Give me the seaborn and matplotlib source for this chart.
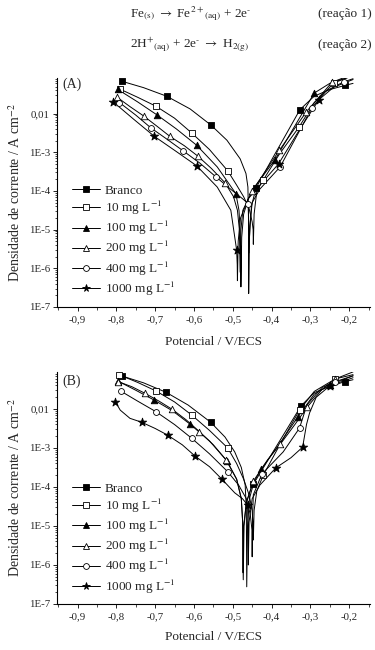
import numpy as np
import matplotlib
matplotlib.use("Agg")
import matplotlib.pyplot as plt
import seaborn as sns
from matplotlib.lines import Line2D
from matplotlib.ticker import LogLocator, NullFormatter, MultipleLocator

# ---------------- data (potential in V/ECS, log10 of current density in A cm-2) -------------
labels = ["Branco", "10 mg L$^{-1}$", "100 mg L$^{-1}$", "200 mg L$^{-1}$",
          "400 mg L$^{-1}$", "1000 mg L$^{-1}$"]
x_ticks = [-0.9, -0.8, -0.7, -0.6, -0.5, -0.4, -0.3, -0.2]
x_ticklabels = ["-0,9", "-0,8", "-0,7", "-0,6", "-0,5", "-0,4", "-0,3", "-0,2"]
y_ticks = [1e-7, 1e-6, 1e-5, 1e-4, 1e-3, 1e-2]
y_ticklabels = ["1E-7", "1E-6", "1E-5", "1E-4", "1E-3", "0,01"]

# Panel A
A_branco_E = [-0.786, -0.73, -0.670, -0.61, -0.556, -0.515, -0.481, -0.466, -0.461, -0.4595, -0.459,
              -0.457, -0.452, -0.440, -0.40, -0.36, -0.327, -0.29, -0.25, -0.210, -0.19]
A_branco_L = [-1.165, -1.33, -1.553, -1.88, -2.30, -2.69, -3.17, -3.55, -3.9, -4.7, -6.65,
              -5.2, -4.4, -3.92, -3.2, -2.49, -1.90, -1.55, -1.38, -1.27, -1.22]
A_branco_M = [0, 2, 4, 13, 16, 19]

A_10_E = [-0.790, -0.745, -0.698, -0.65, -0.606, -0.56, -0.513, -0.49, -0.472, -0.458, -0.450,
          -0.4475, -0.447, -0.445, -0.438, -0.421, -0.38, -0.330, -0.29, -0.238, -0.19]
A_10_L = [-1.372, -1.58, -1.81, -2.12, -2.50, -2.93, -3.48, -3.85, -4.15, -4.45, -4.8,
          -5.0, -5.38, -4.6, -4.0, -3.71, -3.05, -2.36, -1.72, -1.2, -1.02]
A_10_M = [0, 2, 4, 6, 15, 17, 19]

A_100_E = [-0.797, -0.745, -0.696, -0.645, -0.593, -0.54, -0.492, -0.484, -0.481, -0.4795, -0.479,
           -0.477, -0.472, -0.46, -0.44, -0.391, -0.34, -0.290, -0.25, -0.19]
A_100_L = [-1.372, -1.70, -2.03, -2.40, -2.82, -3.38, -4.07, -4.5, -5.0, -5.6, -6.48,
           -5.2, -4.6, -4.2, -3.85, -3.19, -2.32, -1.47, -1.22, -1.02]
A_100_M = [0, 2, 4, 6, 15, 17]

A_200_E = [-0.799, -0.765, -0.730, -0.695, -0.662, -0.625, -0.590, -0.555, -0.520, -0.498, -0.488,
           -0.483, -0.481, -0.479, -0.474, -0.45, -0.38, -0.31, -0.244, -0.19]
A_200_L = [-1.571, -1.82, -2.06, -2.33, -2.59, -2.83, -3.10, -3.42, -3.79, -4.15, -4.5,
           -5.0, -6.1, -5.0, -4.5, -4.0, -2.95, -1.95, -1.19, -0.98]
A_200_M = [0, 2, 4, 6, 8, 15, 16, 17, 18]

A_400_E = [-0.792, -0.75, -0.711, -0.67, -0.627, -0.585, -0.543, -0.50, -0.475, -0.460, -0.459,
           -0.458, -0.456, -0.45, -0.43, -0.378, -0.296, -0.26, -0.214, -0.19]
A_400_L = [-1.716, -2.04, -2.37, -2.66, -2.97, -3.28, -3.64, -4.0, -4.2, -4.33, -4.8,
           -5.6, -4.9, -4.3, -3.95, -3.38, -1.85, -1.42, -1.18, -1.10]
A_400_M = [0, 2, 4, 6, 9, 15, 16, 18]

A_1000_E = [-0.808, -0.755, -0.702, -0.65, -0.593, -0.54, -0.505, -0.490, -0.4885, -0.488, -0.486,
            -0.48, -0.46, -0.43, -0.382, -0.33, -0.278, -0.24, -0.19]
A_1000_L = [-1.70, -2.15, -2.59, -2.95, -3.35, -3.9, -4.5, -5.53, -5.9, -6.32, -5.3,
            -4.7, -4.2, -3.85, -3.30, -2.45, -1.64, -1.32, -1.12]
A_1000_M = [0, 2, 4, 7, 14, 16]

# Panel B
B_branco_E = [-0.786, -0.73, -0.672, -0.615, -0.557, -0.52, -0.495, -0.478, -0.468, -0.465, -0.464,
              -0.462, -0.457, -0.447, -0.40, -0.36, -0.324, -0.29, -0.25, -0.211, -0.19]
B_branco_L = [-1.154, -1.33, -1.572, -1.90, -2.34, -2.72, -3.1, -3.5, -3.95, -4.6, -6.56,
              -5.0, -4.3, -3.93, -3.16, -2.51, -1.92, -1.58, -1.42, -1.30, -1.25]
B_branco_M = [0, 2, 4, 13, 16, 19]

B_10_E = [-0.792, -0.745, -0.698, -0.65, -0.606, -0.56, -0.513, -0.49, -0.472, -0.458, -0.450,
          -0.4475, -0.447, -0.445, -0.438, -0.421, -0.375, -0.328, -0.29, -0.236, -0.19]
B_10_L = [-1.128, -1.32, -1.538, -1.82, -2.154, -2.55, -3.00, -3.4, -3.8, -4.2, -4.6,
          -5.0, -5.36, -4.6, -4.1, -3.69, -2.85, -2.03, -1.55, -1.23, -1.12]
B_10_M = [0, 2, 4, 6, 15, 17, 19]

B_100_E = [-0.797, -0.75, -0.703, -0.655, -0.610, -0.56, -0.515, -0.49, -0.478, -0.4745, -0.473,
           -0.471, -0.465, -0.45, -0.427, -0.38, -0.332, -0.29, -0.249, -0.19]
B_100_L = [-1.28, -1.52, -1.77, -2.05, -2.39, -2.82, -3.33, -3.8, -4.3, -4.9, -6.38,
           -5.0, -4.4, -3.95, -3.55, -2.9, -2.20, -1.62, -1.38, -1.15]
B_100_M = [0, 2, 4, 6, 14, 16, 18]

B_200_E = [-0.795, -0.76, -0.726, -0.69, -0.656, -0.62, -0.586, -0.55, -0.517, -0.49, -0.478,
           -0.4745, -0.4735, -0.472, -0.465, -0.447, -0.41, -0.378, -0.34, -0.308, -0.27, -0.236, -0.19]
B_200_L = [-1.30, -1.43, -1.60, -1.80, -2.01, -2.28, -2.58, -2.92, -3.31, -3.8, -4.3,
           -4.9, -6.2, -5.0, -4.4, -3.85, -3.3, -2.91, -2.4, -1.95, -1.5, -1.23, -1.05]
B_200_M = [0, 2, 4, 6, 8, 15, 17, 19, 21]

B_400_E = [-0.789, -0.745, -0.698, -0.65, -0.606, -0.56, -0.513, -0.485, -0.465, -0.455, -0.4505,
           -0.450, -0.449, -0.447, -0.425, -0.37, -0.328, -0.309, -0.27, -0.236, -0.19]
B_400_L = [-1.54, -1.80, -2.07, -2.40, -2.75, -3.15, -3.61, -3.95, -4.3, -4.7, -5.1,
           -5.79, -4.8, -4.2, -3.67, -3.1, -2.49, -1.9, -1.45, -1.3, -1.15]
B_400_M = [0, 2, 4, 6, 14, 16, 19]

B_1000_E = [-0.803, -0.790, -0.765, -0.735, -0.70, -0.668, -0.63, -0.597, -0.56, -0.528, -0.495,
            -0.475, -0.462, -0.4605, -0.460, -0.458, -0.45, -0.43, -0.389, -0.35, -0.320, -0.31,
            -0.302, -0.285, -0.249, -0.19]
B_1000_L = [-1.81, -2.03, -2.24, -2.34, -2.50, -2.67, -2.92, -3.21, -3.48, -3.80, -4.15,
            -4.3, -4.46, -5.0, -6.0, -4.9, -4.3, -3.95, -3.51, -3.25, -2.98, -2.4,
            -2.1, -1.7, -1.40, -1.2]
B_1000_M = [0, 3, 5, 7, 9, 12, 18, 20, 24]

# ---------------- styling -------------
sns.set_style("ticks")
plt.rcParams["font.family"] = ["Liberation Serif", "DejaVu Serif"]
plt.rcParams["mathtext.fontset"] = "stix"

mk_shapes = ["s", "s", "^", "^", "o", "*"]
mk_filled = [True, False, True, False, False, True]
mk_area = [16, 16, 22, 22, 18, 40]

panelA = [(A_branco_E, A_branco_L, A_branco_M), (A_10_E, A_10_L, A_10_M),
          (A_100_E, A_100_L, A_100_M), (A_200_E, A_200_L, A_200_M),
          (A_400_E, A_400_L, A_400_M), (A_1000_E, A_1000_L, A_1000_M)]
panelB = [(B_branco_E, B_branco_L, B_branco_M), (B_10_E, B_10_L, B_10_M),
          (B_100_E, B_100_L, B_100_M), (B_200_E, B_200_L, B_200_M),
          (B_400_E, B_400_L, B_400_M), (B_1000_E, B_1000_L, B_1000_M)]

fig = plt.figure(figsize=(3.75, 6.5), dpi=100)
axA = fig.add_axes([0.152, 0.5277, 0.835, 0.3523])
axB = fig.add_axes([0.152, 0.0708, 0.835, 0.357])


def draw(ax, series, ytop, letter, leg_y, letter_y, xlab_y):
    ax.set_yscale("log")
    for i, (E, L, M) in enumerate(series):
        E = np.asarray(E)
        j = 10.0 ** np.asarray(L)
        sns.lineplot(x=E, y=j, ax=ax, color="black", linewidth=0.7, sort=False,
                     estimator=None, legend=False)
        sns.scatterplot(x=E[M], y=j[M], ax=ax, marker=mk_shapes[i], s=mk_area[i],
                        color="black" if mk_filled[i] else "white", edgecolor="black",
                        linewidth=0.6, zorder=3, legend=False)
    ax.set_xlim(-0.953, -0.146)
    ax.set_ylim(1e-7, ytop)
    ax.set_xticks(x_ticks)
    ax.set_xticklabels(x_ticklabels)
    ax.xaxis.set_minor_locator(MultipleLocator(0.05))
    ax.set_yticks(y_ticks)
    ax.set_yticklabels(y_ticklabels)
    ax.yaxis.set_minor_locator(LogLocator(base=10, subs=np.arange(2, 10)))
    ax.yaxis.set_minor_formatter(NullFormatter())
    ax.tick_params(which="major", direction="out", length=3, width=0.6, labelsize=7.8, color="black")
    ax.tick_params(which="minor", direction="out", length=1.8, width=0.5, color="black")
    ax.tick_params(axis="y", pad=2)
    ax.tick_params(axis="x", pad=3)
    sns.despine(ax=ax)
    for s in ["left", "bottom"]:
        ax.spines[s].set_linewidth(0.8)
        ax.spines[s].set_color("black")
    ax.set_xlabel("Potencial / V/ECS", fontsize=9.5)
    ax.xaxis.set_label_coords(0.5, xlab_y)
    ax.set_ylabel("Densidade de corrente / A cm$^{-2}$", fontsize=10)
    ax.yaxis.set_label_coords(-0.11, 0.5)
    ax.text(0.016, letter_y, letter, transform=ax.transAxes, fontsize=10, va="center", ha="left")
    handles = [Line2D([], [], color="black", lw=0.7, marker=mk_shapes[i],
                      markersize=(5.5 if mk_shapes[i] == "*" else 4.2),
                      markerfacecolor="black" if mk_filled[i] else "white",
                      markeredgecolor="black", markeredgewidth=0.6) for i in range(6)]
    ax.legend(handles, labels, loc="upper left", bbox_to_anchor=(0.048, leg_y), frameon=False,
              fontsize=9.5, handlelength=2.1, handletextpad=0.4, labelspacing=0.16,
              borderpad=0, borderaxespad=0)


draw(axA, panelA, 0.083, "(A)", 0.535, 0.974, -0.127)
draw(axB, panelB, 0.089, "(B)", 0.524, 0.958, -0.116)

eq1 = r"Fe$_{\mathrm{(s)}}$ $\rightarrow$ Fe$^{2+}$$_{\mathrm{(aq)}}$ + 2e$^{\text{-}}$"
eq2 = r"2H$^{+}$$_{\mathrm{(aq)}}$ + 2e$^{\text{-}}$ $\rightarrow$ H$_{\mathrm{2(g)}}$"
fig.text(130 / 375, 1 - 17 / 650, eq1, fontsize=9.5, va="baseline", ha="left")
fig.text(318 / 375, 1 - 17 / 650, "(reação 1)", fontsize=9.5, va="baseline", ha="left")
fig.text(130 / 375, 1 - 48 / 650, eq2, fontsize=9.5, va="baseline", ha="left")
fig.text(318 / 375, 1 - 48 / 650, "(reação 2)", fontsize=9.5, va="baseline", ha="left")

fig.savefig("out.png", dpi=100, facecolor="white")
